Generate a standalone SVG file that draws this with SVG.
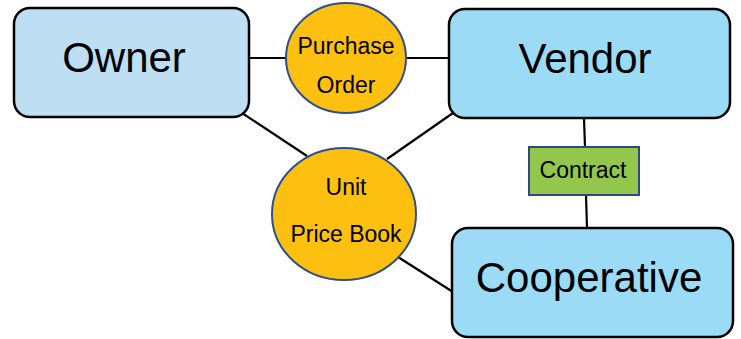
<svg xmlns="http://www.w3.org/2000/svg" width="741" height="339" viewBox="0 0 741 339">
<style>
.box{stroke:#000;stroke-width:2.5}
.ell{fill:#FEC010;stroke:#2F4F8A;stroke-width:2}
.lbl{font-family:"Liberation Sans",Arial,sans-serif;fill:#000;text-anchor:middle}
.big{font-size:42px}
.sm{font-size:23px}
#connectors line{stroke:#000;stroke-width:2.2}
</style>
<rect width="741" height="339" fill="#fff"/>
<g id="connectors">
<line x1="249" y1="58" x2="286" y2="58"/>
<line x1="406" y1="58" x2="450" y2="58"/>
<line x1="242" y1="113" x2="307" y2="156"/>
<line x1="453" y1="113" x2="387" y2="159"/>
<line x1="398" y1="257" x2="453" y2="292"/>
<line x1="584" y1="118" x2="585" y2="147"/>
<line x1="586" y1="195" x2="587" y2="228"/>
</g>
<g id="owner">
<rect class="box" x="14" y="8" width="235" height="109" rx="16" fill="#BDDEF3"/>
<text class="lbl big" x="124" y="72">Owner</text>
</g>
<g id="vendor">
<rect class="box" x="449" y="9" width="281" height="109" rx="16" fill="#9BDBF5"/>
<text class="lbl big" x="585" y="73">Vendor</text>
</g>
<g id="cooperative">
<rect class="box" x="452" y="228" width="281" height="109" rx="16" fill="#9BDBF5"/>
<text class="lbl big" x="589" y="292">Cooperative</text>
</g>
<g id="purchase-order">
<ellipse class="ell" cx="346" cy="58" rx="60" ry="55"/>
<text class="lbl sm" x="346" y="54">Purchase</text>
<text class="lbl sm" x="346" y="93">Order</text>
</g>
<g id="unit-price-book">
<ellipse class="ell" cx="344" cy="214" rx="72" ry="66"/>
<text class="lbl sm" x="346" y="195">Unit</text>
<text class="lbl sm" x="346" y="242">Price Book</text>
</g>
<g id="contract">
<rect x="529" y="147" width="110" height="48" fill="#92C74B" stroke="#2F4A80" stroke-width="2"/>
<text class="lbl sm" x="583" y="178">Contract</text>
</g>
</svg>
